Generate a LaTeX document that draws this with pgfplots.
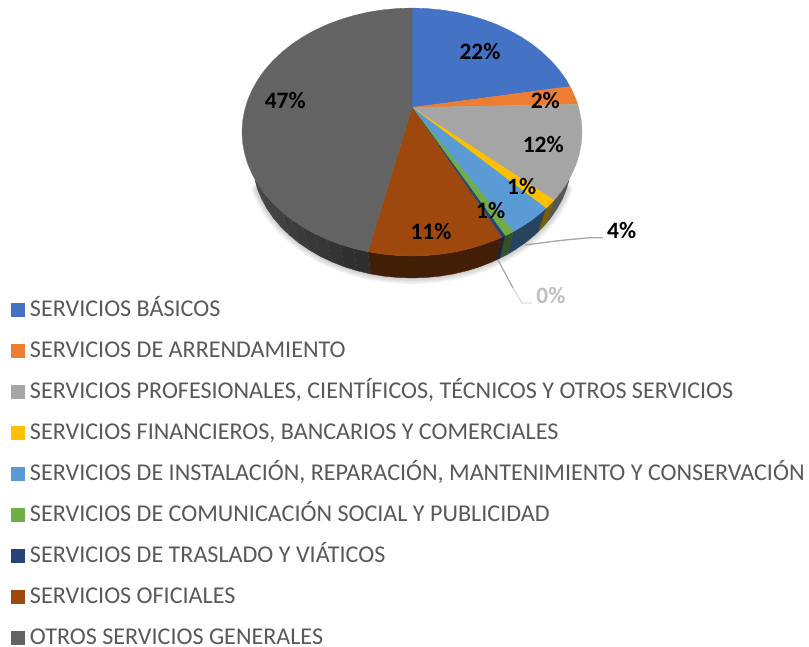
\documentclass[border=0pt]{standalone}
\usepackage{pgfplots}
\pgfplotsset{compat=1.18}
\usepackage{fontspec}
\setmainfont{Carlito}
\definecolor{cBlue}{HTML}{4472C4}
\definecolor{cOrange}{HTML}{ED7D31}
\definecolor{cGray}{HTML}{A5A5A5}
\definecolor{cYellow}{HTML}{FFC000}
\definecolor{cLBlue}{HTML}{5B9BD5}
\definecolor{cGreen}{HTML}{70AD47}
\definecolor{cNavy}{HTML}{264478}
\definecolor{cBrown}{HTML}{9E480E}
\definecolor{cDark}{HTML}{636363}
\definecolor{legText}{HTML}{595959}
\definecolor{sGray}{RGB}{86,86,86}
\definecolor{sYellow}{RGB}{127,96,0}
\definecolor{sLBlue}{RGB}{38,68,96}
\definecolor{sGreen}{RGB}{52,80,36}
\definecolor{sNavy}{RGB}{20,36,70}
\definecolor{sBrown}{RGB}{66,30,6}
\pgfplotsset{
  face/.style={fill=#1,draw=#1,line width=0.3pt},
  side/.style={fill=#1,draw=#1,line width=0.3pt,forget plot},
  shad/.style={draw=black,line width=#1,opacity=0.05,forget plot,line cap=round,line join=round,fill=none},
}
\tikzset{lab/.style={font=\fontsize{23.5}{26}\selectfont\bfseries,text=black,inner sep=0pt}}
\begin{document}
\begin{tikzpicture}
\useasboundingbox (0,0) rectangle (809pt,647pt);
\begin{axis}[
  scale only axis, width=809pt, height=647pt,
  xmin=0, xmax=809, ymin=0, ymax=647, y dir=reverse,
  hide axis, clip=false, no markers,
  legend cell align=left,
  legend image code/.code={\path[#1,draw=none] (0pt,-7pt) rectangle (14pt,7pt);},
  legend style={at={(0.0136,0.535)},anchor=north west,draw=none,fill=none,
    font=\fontsize{24.1}{26}\selectfont,text=legText,row sep=22pt,
    inner sep=0pt,outer sep=0pt,
    nodes={text height=16pt,text depth=3pt,inner sep=0pt,outer sep=0pt},
    /tikz/column 1/.style={column sep=5pt}},
]
% shadow
\pgfplotsinvokeforeach{12pt,9pt,6pt,3pt}{
\addplot[shad=#1] coordinates {(566.5,189.1)(562.4,199)(557,208.7)(550.6,218)(543.1,226.8)(534.6,235.1)(525.1,242.9)(514.8,249.9)(503.8,256.3)(492,261.9)(479.6,266.8)(466.7,270.8)(453.4,273.9)(439.8,276.2)(426,277.5)(412,278)(398,277.5)(384.2,276.2)(370.6,273.9)(357.3,270.8)(344.4,266.8)(332,261.9)(320.2,256.3)(309.2,249.9)(298.9,242.9)(289.4,235.1)(280.9,226.8)(273.4,218)(267,208.7)(261.6,199)(257.5,189.1)};
}
% sides
\addplot[side=sGray] coordinates {(554,200.2)(559.2,194)(566.1,184.4)(569,180)(566.5,189.1)(562.4,199)(557,208.7)(550.6,218)(545.6,224)} -- cycle;
\addplot[side=sYellow] coordinates {(554,200.2)(551.3,203.1)(546,208.3)(538,231.8)(543.1,226.8)(545.6,224)} -- cycle;
\addplot[side=sLBlue] coordinates {(546,208.3)(542.2,211.7)(532.2,219.7)(521.3,227)(513.3,231.6)(507.4,254.4)(514.8,249.9)(525.1,242.9)(534.6,235.1)(538,231.8)} -- cycle;
\addplot[side=sGreen] coordinates {(513.3,231.6)(509.5,233.6)(505,235.8)(499.5,258.4)(503.8,256.3)(507.4,254.4)} -- cycle;
\addplot[side=sNavy] coordinates {(505,235.8)(501.7,237.3)(496.4,259.9)(499.5,258.4)} -- cycle;
\addplot[side=sBrown] coordinates {(501.7,237.3)(497,239.4)(483.8,244.4)(470.1,248.5)(456,251.8)(441.5,254.1)(426.8,255.5)(412,256)(397.2,255.5)(382.5,254.1)(368,251.8)(370.6,273.9)(384.2,276.2)(398,277.5)(412,278)(426,277.5)(439.8,276.2)(453.4,273.9)(466.7,270.8)(479.6,266.8)(492,261.9)(496.4,259.9)} -- cycle;
\addplot[side=black!82] coordinates {(368,251.8)(353.9,248.5)(357.3,270.8)(370.6,273.9)} -- cycle;
\addplot[side=black!81] coordinates {(353.9,248.5)(340.2,244.4)(344.4,266.8)(357.3,270.8)} -- cycle;
\addplot[side=black!80] coordinates {(340.2,244.4)(327,239.4)(332,261.9)(344.4,266.8)} -- cycle;
\addplot[side=black!79] coordinates {(327,239.4)(314.5,233.6)(320.2,256.3)(332,261.9)} -- cycle;
\addplot[side=black!78] coordinates {(314.5,233.6)(302.7,227)(309.2,249.9)(320.2,256.3)} -- cycle;
\addplot[side=black!77] coordinates {(302.7,227)(291.8,219.7)(298.9,242.9)(309.2,249.9)} -- cycle;
\addplot[side=black!76] coordinates {(291.8,219.7)(281.8,211.7)(289.4,235.1)(298.9,242.9)} -- cycle;
\addplot[side=black!75] coordinates {(281.8,211.7)(272.7,203.1)(280.9,226.8)(289.4,235.1)} -- cycle;
\addplot[side=black!74] coordinates {(272.7,203.1)(264.8,194)(273.4,218)(280.9,226.8)} -- cycle;
\addplot[side=black!73] coordinates {(264.8,194)(257.9,184.4)(267,208.7)(273.4,218)} -- cycle;
\addplot[side=black!72] coordinates {(257.9,184.4)(255,180)(257.5,189.1)(261.6,199)(267,208.7)} -- cycle;
% top faces (series, in legend order)
\addplot[face=cBlue] coordinates {(412,107.5)(412,8)(426.8,8.5)(441.5,9.9)(456,12.2)(470.1,15.5)(483.8,19.6)(497,24.6)(509.5,30.4)(521.3,37)(532.2,44.3)(542.2,52.3)(551.3,60.9)(559.2,70)(566.1,79.6)(570,86.5)} -- cycle;
\addlegendentry{SERVICIOS BÁSICOS}
\addplot[face=cOrange] coordinates {(412,107.5)(570,86.5)(571.7,89.6)(576.2,99.9)(577.7,104.3)} -- cycle;
\addlegendentry{SERVICIOS DE ARRENDAMIENTO}
\addplot[face=cGray] coordinates {(412,107.5)(577.7,104.3)(579.4,110.5)(581.4,121.2)(582,132)(581.4,142.8)(579.4,153.5)(576.2,164.1)(571.7,174.4)(566.1,184.4)(559.2,194)(554,200.2)} -- cycle;
\addlegendentry{SERVICIOS PROFESIONALES, CIENTÍFICOS, TÉCNICOS Y OTROS SERVICIOS}
\addplot[face=cYellow] coordinates {(412,107.5)(554,200.2)(551.3,203.1)(546,208.3)} -- cycle;
\addlegendentry{SERVICIOS FINANCIEROS, BANCARIOS Y COMERCIALES}
\addplot[face=cLBlue] coordinates {(412,107.5)(546,208.3)(542.2,211.7)(532.2,219.7)(521.3,227)(513.3,231.6)} -- cycle;
\addlegendentry{SERVICIOS DE INSTALACIÓN, REPARACIÓN, MANTENIMIENTO Y CONSERVACIÓN}
\addplot[face=cGreen] coordinates {(412,107.5)(513.3,231.6)(509.5,233.6)(505,235.8)} -- cycle;
\addlegendentry{SERVICIOS DE COMUNICACIÓN SOCIAL Y PUBLICIDAD}
\addplot[face=cNavy] coordinates {(412,107.5)(505,235.8)(501.7,237.3)} -- cycle;
\addlegendentry{SERVICIOS DE TRASLADO Y VIÁTICOS}
\addplot[face=cBrown] coordinates {(412,107.5)(501.7,237.3)(497,239.4)(483.8,244.4)(470.1,248.5)(456,251.8)(441.5,254.1)(426.8,255.5)(412,256)(397.2,255.5)(382.5,254.1)(368,251.8)} -- cycle;
\addlegendentry{SERVICIOS OFICIALES}
\addplot[face=cDark] coordinates {(412,107.5)(368,251.8)(353.9,248.5)(340.2,244.4)(327,239.4)(314.5,233.6)(302.7,227)(291.8,219.7)(281.8,211.7)(272.7,203.1)(264.8,194)(257.9,184.4)(252.3,174.4)(247.8,164.1)(244.6,153.5)(242.6,142.8)(242,132)(242.6,121.2)(244.6,110.5)(247.8,99.9)(252.3,89.6)(257.9,79.6)(264.8,70)(272.7,60.9)(281.8,52.3)(291.8,44.3)(302.7,37)(314.5,30.4)(327,24.6)(340.2,19.6)(353.9,15.5)(368,12.2)(382.5,9.9)(397.2,8.5)(412,8)} -- cycle;
\addlegendentry{OTROS SERVICIOS GENERALES}
% leader lines
\addplot[forget plot,draw=black!35,line width=1.3pt] coordinates {(525,245)(560,240.5)(590,237.7)(602.7,237.7)};
\addplot[forget plot,draw=black!33,line width=1.3pt] coordinates {(498,260)(513,288)};
\addplot[forget plot,draw=black!12,line width=1.3pt] coordinates {(513,288)(522,303)(532,303)};
% data labels
\node[lab] at (axis cs:480,51.7) {22\%};
\node[lab] at (axis cs:545.3,100.7) {2\%};
\node[lab] at (axis cs:543.3,144) {12\%};
\node[lab] at (axis cs:521.7,186) {1\%};
\node[lab] at (axis cs:490.7,210.7) {1\%};
\node[lab] at (axis cs:431,231) {11\%};
\node[lab] at (axis cs:285.3,100) {47\%};
\node[lab] at (axis cs:621.7,230) {4\%};
\node[lab,text=black!25] at (axis cs:551,295) {0\%};
\end{axis}
\end{tikzpicture}
\end{document}
